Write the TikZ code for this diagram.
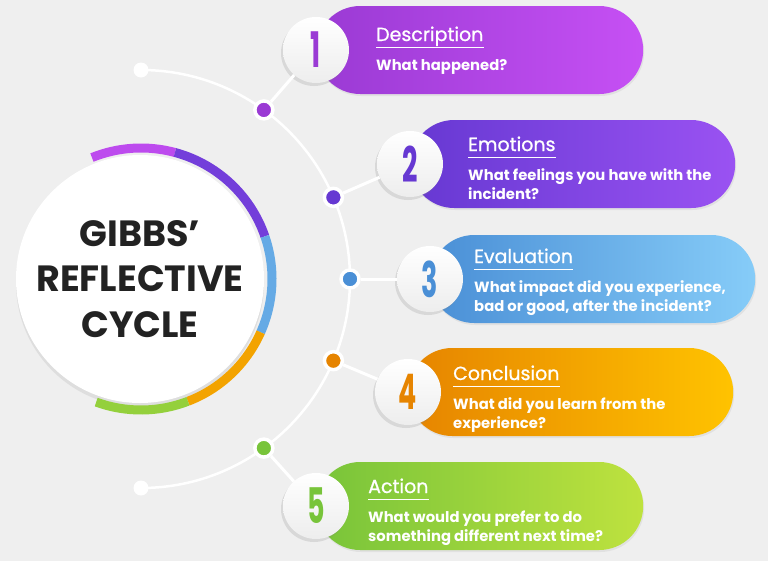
\documentclass[tikz,border=0pt]{standalone}
\usepackage{fontspec}
\setmainfont{Poppins}
\newfontfamily\gbtitlefont{Poppins}[FakeBold=0.9]
\usepackage{graphicx}
\usetikzlibrary{calc,positioning,shadows}
\definecolor{gbbg}{HTML}{EFEFEF}
\definecolor{gbtext}{HTML}{222222}
\definecolor{gbpurpleA}{HTML}{9A3AD4}
\definecolor{gbpurpleB}{HTML}{C650F4}
\definecolor{gbvioletA}{HTML}{6638D2}
\definecolor{gbvioletB}{HTML}{9A52F2}
\definecolor{gbblueA}{HTML}{4A8FD6}
\definecolor{gbblueB}{HTML}{86CCF8}
\definecolor{gborangeA}{HTML}{E68400}
\definecolor{gborangeB}{HTML}{FFC300}
\definecolor{gbgreenA}{HTML}{78C43A}
\definecolor{gbgreenB}{HTML}{BEE23E}
\newcommand{\gblines}[1]{\begin{tabular}[t]{@{}l@{}}#1\end{tabular}}

\begin{document}
\begin{tikzpicture}[
    x=1pt, y=-1pt,
    pill/.style={rounded corners=44pt, minimum height=88pt, inner sep=0pt, anchor=west,
        drop shadow={opacity=0.12, shadow xshift=1pt, shadow yshift=-2pt}},
    numdisc/.style={circle, minimum size=66pt, inner sep=0pt, top color=white, bottom color=gray!14,
        drop shadow={opacity=0.2, shadow xshift=-2pt, shadow yshift=-3pt}},
    dot/.style={circle, minimum size=18pt, inner sep=0pt, draw=white, line width=3.5pt},
    enddot/.style={circle, minimum size=15pt, inner sep=0pt, fill=white},
    link/.style={white, line width=3pt},
    ring/.style={line width=9pt},
    title/.style={font=\gbtitlefont\fontsize{19}{19}\selectfont, text=white, inner sep=0pt, anchor=base west},
    body/.style={font=\bfseries\fontsize{14.8}{19}\selectfont, text=white, inner sep=0pt, anchor=base west}
]
    \useasboundingbox (0,0) rectangle (768,560);
    \fill[gbbg] (-6,-6) rectangle (774,566);
    \coordinate (c) at (141,279);

    % guide arc with its end dots
    \node[enddot] (top) at ($(c)+(-90:209)$) {};
    \node[enddot] (bot) at ($(c)+(90:209)$) {};
    \draw[link, line width=2.5pt] (top.center) arc[start angle=-90, end angle=90, radius=209];

    % hub with coloured ring
    \node[circle, fill=white, minimum size=248pt, inner sep=0pt, align=center,
        font=\bfseries\fontsize{36.5}{45.5}\selectfont, text=gbtext,
        drop shadow={opacity=0.15, shadow xshift=0pt, shadow yshift=-4pt}] (hub) at ([xshift=-1pt]c) {GIBBS’\\REFLECTIVE\\CYCLE};
    \draw[ring, gbpurpleB!80!gbpurpleA] ($(c)+(-112:131)$) arc[start angle=-112, end angle=-75, radius=131];
    \draw[ring, gbvioletA!75!gbvioletB] ($(c)+(-75:131)$) arc[start angle=-75, end angle=-19, radius=131];
    \draw[ring, gbblueA!55!gbblueB] ($(c)+(-19:131)$) arc[start angle=-19, end angle=24, radius=131];
    \draw[ring, gborangeA!50!gborangeB] ($(c)+(24:131)$) arc[start angle=24, end angle=69, radius=131];
    \draw[ring, gbgreenA!60!gbgreenB] ($(c)+(69:131)$) arc[start angle=69, end angle=110, radius=131];

    \foreach \n/\cx/\cy/\w/\ang/\tx/\ty/\colA/\colB/\ttl/\txt in {
        1/316/50/327/-54/376/41/gbpurpleA/gbpurpleB/Description/{What happened?},
        2/410/164/325/-23/468/151/gbvioletA/gbvioletB/Emotions/{What feelings you have with the\\incident?},
        3/430/279/325/0/474/263/gbblueA/gbblueB/Evaluation/{What impact did you experience,\\bad or good, after the incident?},
        4/408/392/325/23/453/380/gborangeA/gborangeB/Conclusion/{What did you learn from the\\experience?},
        5/316/506/327/54/368/493/gbgreenA/gbgreenB/Action/{What would you prefer to do\\something different next time?}} {
        \node[pill, left color=\colA, right color=\colB, minimum width=\w pt] (p\n) at (\cx,\cy) {};
        \node[dot, fill=\colA] (d\n) at ($(c)+(\ang:209)$) {};
        \node[numdisc, text=\colA] (n\n) at (\cx,\cy) {\scalebox{0.55}[1]{\bfseries\fontsize{49}{49}\selectfont\n}};
        \draw[link] (d\n) -- (n\n);
        \node[title] (t\n) at (\tx,\ty) {\ttl};
        \draw[white, line width=1pt] ($(t\n.base west)+(0,6)$) -- ($(t\n.base east)+(0,6)$);
        \node[body] (b\n) at (\tx,{\ty+29}) {\gblines{\txt}};
    }
\end{tikzpicture}
\end{document}
